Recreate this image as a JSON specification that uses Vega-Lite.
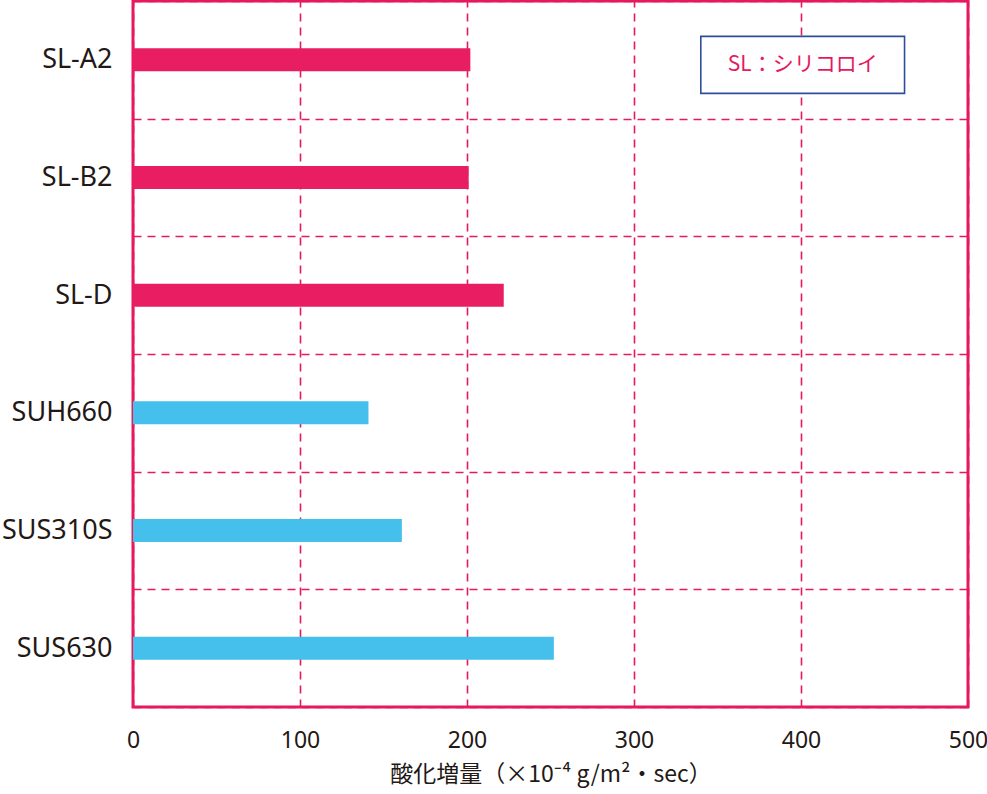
{
  "$schema": "https://vega.github.io/schema/vega-lite/v6.json",
  "width": 835,
  "height": 706,
  "autosize": {"type": "none"},
  "padding": {"left": 133, "right": 19, "top": 1, "bottom": 87},
  "background": "white",
  "view": {"stroke": "#E6195F", "strokeWidth": 3},
  "config": {
    "font": "Noto Sans",
    "axis": {
      "domain": false,
      "ticks": false,
      "grid": true,
      "gridColor": "#E6195F",
      "gridDash": [8, 6],
      "gridWidth": 1.6,
      "gridOpacity": 1,
      "labelColor": "#231815",
      "titleColor": "#231815"
    }
  },
  "datasets": {
    "bars": [
      {"material": "SL-A2", "value": 202, "group": "SL"},
      {"material": "SL-B2", "value": 201, "group": "SL"},
      {"material": "SL-D", "value": 222, "group": "SL"},
      {"material": "SUH660", "value": 141, "group": "SUS"},
      {"material": "SUS310S", "value": 161, "group": "SUS"},
      {"material": "SUS630", "value": 252, "group": "SUS"}
    ],
    "note": [
      {"material": "SL-A2", "x1": 340, "x2": 462, "xm": 401, "label": "SL：シリコロイ"}
    ]
  },
  "layer": [
    {
      "data": {"name": "bars"},
      "mark": {"type": "bar", "size": 23},
      "encoding": {
        "y": {
          "field": "material",
          "type": "nominal",
          "scale": {
            "domain": ["SL-A2", "SL-B2", "SL-D", "SUH660", "SUS310S", "SUS630"],
            "paddingInner": 0,
            "paddingOuter": 0
          },
          "axis": {
            "title": null,
            "tickBand": "extent",
            "labelFontSize": 27,
            "labelPadding": 21,
            "labelFont": "Noto Sans"
          }
        },
        "x": {
          "field": "value",
          "type": "quantitative",
          "scale": {"domain": [0, 500], "nice": false},
          "axis": {
            "title": "酸化増量（×10⁻⁴ g/m²・sec）",
            "values": [0, 100, 200, 300, 400, 500],
            "labelFontSize": 23,
            "labelPadding": 22,
            "labelFont": "Noto Sans",
            "labelFlush": false,
            "titleFont": "Noto Sans CJK JP",
            "titleFontSize": 23,
            "titleFontWeight": "normal",
            "titlePadding": 11
          }
        },
        "color": {
          "field": "group",
          "type": "nominal",
          "scale": {"domain": ["SL", "SUS"], "range": ["#E81D62", "#45BFEB"]},
          "legend": null
        }
      }
    },
    {
      "data": {"name": "note"},
      "mark": {"type": "bar", "size": 57, "fill": "white", "stroke": "#2D4E9C", "strokeWidth": 1.6, "yOffset": 5},
      "encoding": {
        "y": {"field": "material", "type": "nominal"},
        "x": {"field": "x1", "type": "quantitative"},
        "x2": {"field": "x2"}
      }
    },
    {
      "data": {"name": "note"},
      "mark": {"type": "text", "font": "Noto Sans CJK JP", "fontSize": 21, "color": "#E6195F", "dy": 5},
      "encoding": {
        "y": {"field": "material", "type": "nominal"},
        "x": {"field": "xm", "type": "quantitative"},
        "text": {"field": "label"}
      }
    }
  ]
}
